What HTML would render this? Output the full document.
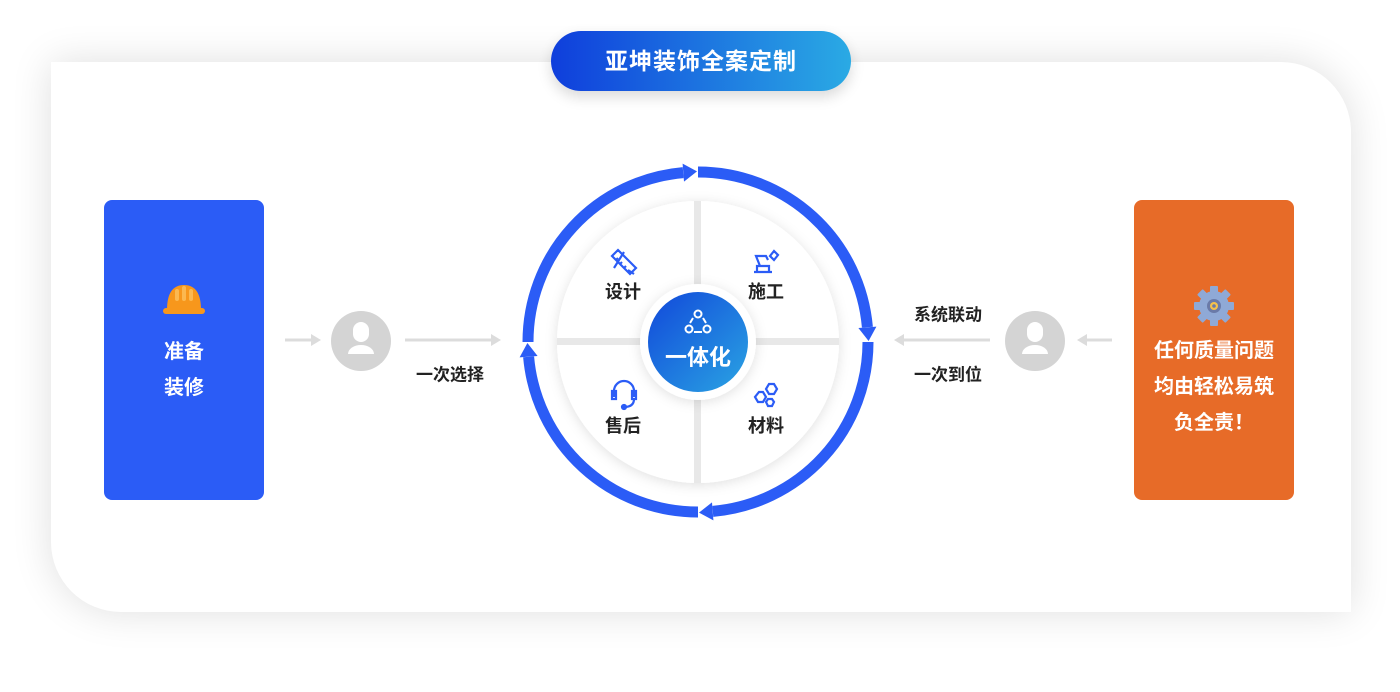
<!DOCTYPE html>
<html><head><meta charset="utf-8"><style>
*{margin:0;padding:0;box-sizing:border-box}
body{width:1400px;height:692px;background:#fff;position:relative;overflow:hidden;font-family:"Liberation Sans","Noto Sans CJK SC",sans-serif}
.card{position:absolute;left:51px;top:62px;width:1300px;height:550px;background:#fff;border-radius:0 70px 0 70px;box-shadow:0 0 40px rgba(0,0,0,0.13)}
.pill{position:absolute;left:551px;top:31px;width:300px;height:60px;border-radius:30px;background:linear-gradient(90deg,#0f3edc,#2aaae4);color:#fff;font-weight:bold;font-size:23px;text-align:center;line-height:60px;box-shadow:0 6px 14px rgba(0,0,0,0.15);letter-spacing:1px}
.box{position:absolute;top:200px;width:160px;height:300px;border-radius:8px;color:#fff;font-weight:bold;font-size:20px;text-align:center}
.t{position:absolute;font-weight:bold;color:#222;white-space:nowrap;transform:translate(-50%,-50%)}
</style></head><body>
<div class="card"></div>
<div class="pill">亚坤装饰全案定制</div>

<div class="box" style="left:104px;background:#2b5cf6">
  <div style="position:absolute;left:0;width:160px;top:134px;line-height:36px">准备<br>装修</div>
</div>
<div class="box" style="left:1134px;background:#e76b28">
  <div style="position:absolute;left:0;width:160px;top:133px;line-height:36px">任何质量问题<br>均由轻松易筑<br>负全责！</div>
</div>

<svg width="1400" height="692" style="position:absolute;left:0;top:0">
<defs>
<linearGradient id="bg" x1="0" y1="0" x2="1" y2="1"><stop offset="0" stop-color="#1148da"/><stop offset="1" stop-color="#2aa4e3"/></linearGradient>
<filter id="sh" x="-30%" y="-30%" width="160%" height="160%"><feDropShadow dx="0" dy="2" stdDeviation="6" flood-color="#000" flood-opacity="0.12"/></filter>
</defs>
<!-- helmet -->
<path d="M167 310 Q167 285 184 285 Q201 285 201 310 Z" fill="#f7971c"/>
<rect x="163" y="308" width="42" height="6" rx="3" fill="#f7971c"/>
<g fill="#fbb850"><rect x="175" y="289" width="4" height="12" rx="2"/><rect x="182" y="286" width="4" height="15" rx="2"/><rect x="189" y="289" width="4" height="12" rx="2"/></g>
<!-- gear -->
<g transform="translate(1214,306)">
<g fill="#8fa9d6">
<circle r="15"/>
<g id="tooth"><rect x="-4" y="-20" width="8" height="7" rx="1"/></g>
<use href="#tooth" transform="rotate(45)"/><use href="#tooth" transform="rotate(90)"/><use href="#tooth" transform="rotate(135)"/><use href="#tooth" transform="rotate(180)"/><use href="#tooth" transform="rotate(225)"/><use href="#tooth" transform="rotate(270)"/><use href="#tooth" transform="rotate(315)"/>
</g>
<circle r="7" fill="#6a7aa8"/><circle r="4" fill="#f5c24b"/><circle r="1.8" fill="#6a7aa8"/>
</g>
<!-- arrows gray -->
<g stroke="#dcdcdc" stroke-width="3" fill="#dcdcdc">
<line x1="285" y1="340" x2="312" y2="340"/><polygon points="321,340 311,334 311,346" stroke="none"/>
<line x1="405" y1="340" x2="492" y2="340"/><polygon points="501,340 491,334 491,346" stroke="none"/>
<line x1="990" y1="340" x2="903" y2="340"/><polygon points="894,340 904,334 904,346" stroke="none"/>
<line x1="1112" y1="340" x2="1086" y2="340"/><polygon points="1077,340 1087,334 1087,346" stroke="none"/>
</g>
<!-- persons -->
<g>
<circle cx="361" cy="341" r="30" fill="#d4d4d4"/>
<path d="M353 330 a8 8 0 0 1 16 0 v4 a8 8 0 0 1 -16 0z" fill="#fff"/>
<path d="M348 354 a13 9 0 0 1 26 0z" fill="#fff"/>
<circle cx="1035" cy="341" r="30" fill="#d4d4d4"/>
<path d="M1027 330 a8 8 0 0 1 16 0 v4 a8 8 0 0 1 -16 0z" fill="#fff"/>
<path d="M1022 354 a13 9 0 0 1 26 0z" fill="#fff"/>
</g>
<!-- ring arcs -->
<g fill="#2b5cf6">
<g id="q"><path d="M528 342 A170 170 0 0 1 683.2 172.6" fill="none" stroke="#2b5cf6" stroke-width="11"/><polygon points="697,171.4 682.6,163.6 684.0,181.6"/></g>
<use href="#q" transform="rotate(90 698 342)"/>
<use href="#q" transform="rotate(180 698 342)"/>
<use href="#q" transform="rotate(270 698 342)"/>
</g>
<!-- inner disc -->
<circle cx="698" cy="342" r="141" fill="#fff" filter="url(#sh)"/>
<rect x="557" y="338" width="282" height="7" fill="#e8e8e8"/>
<rect x="694" y="201" width="7" height="282" fill="#e8e8e8"/>
<circle cx="698" cy="342" r="58" fill="#fff" filter="url(#sh)"/>
<circle cx="698" cy="342" r="50" fill="url(#bg)"/>
<g fill="none" stroke="#fff" stroke-width="2"><circle cx="698" cy="314" r="3.5"/><circle cx="689" cy="329" r="3.5"/><circle cx="707" cy="329" r="3.5"/><path d="M693 318 l-3 5 M703 318 l3 5 M694 332 h8"/></g>
<!-- quadrant icons -->
<g fill="none" stroke="#2b5cf6" stroke-width="2.2">
<path d="M612 256 l6 -6 l18 18 l-6 6z M616 260 l2 -2 M620 264 l2 -2 M624 268 l2 -2"/>
<path d="M614 268 l10 -16 M628 270 l6 4"/>
<path d="M754 272 h18 M757 272 v-6 h12 v6 M760 266 l-4 -10 h10 l2 4 M770 256 l4 -5 l4 4 l-4 5z"/>
<path d="M614 397 v-6 a10 10 0 0 1 20 0 v6 M612 391 h4 v8 h-4z M632 391 h4 v8 h-4z M634 399 q0 8 -10 8"/>
<circle cx="624" cy="407" r="2" fill="#2b5cf6"/>
<path d="M759 392 l4 0 l3 5 l-3 5 h-5 l-3 -5z M769 384 h5 l3 5 l-3 5 h-5 l-3 -5z M768 399 h4 l2 3 l-2 4 h-4 l-2 -4z"/>
</g>
</svg>

<div class="t" style="left:623px;top:291px;font-size:18px">设计</div>
<div class="t" style="left:766px;top:291px;font-size:18px">施工</div>
<div class="t" style="left:623px;top:425px;font-size:18px">售后</div>
<div class="t" style="left:766px;top:425px;font-size:18px">材料</div>
<div class="t" style="left:698px;top:356px;font-size:22px;color:#fff">一体化</div>
<div class="t" style="left:450px;top:373px;font-size:17px">一次选择</div>
<div class="t" style="left:948px;top:313px;font-size:17px">系统联动</div>
<div class="t" style="left:948px;top:373px;font-size:17px">一次到位</div>
</body></html>
